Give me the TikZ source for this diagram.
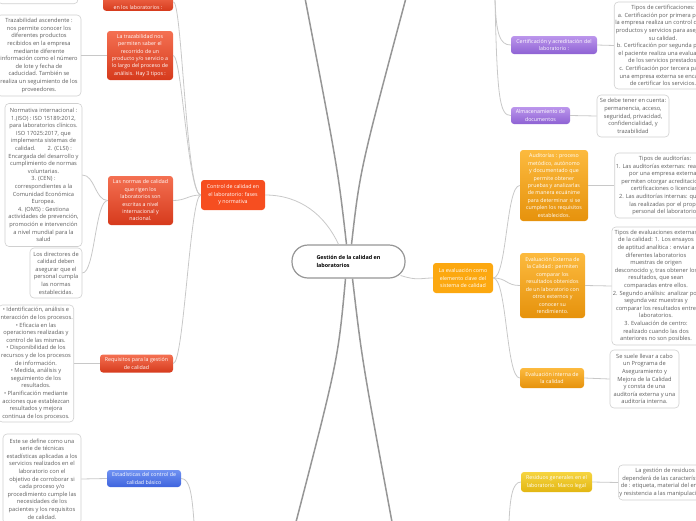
\documentclass[tikz,border=0pt]{standalone}
\usepackage{fontspec}
\setmainfont{Open Sans}

\definecolor{redtop}{RGB}{244,112,82}
\definecolor{redbot}{RGB}{214,58,28}
\definecolor{ctrlred}{RGB}{246,78,32}
\definecolor{bluetop}{RGB}{112,146,242}
\definecolor{bluebot}{RGB}{62,100,222}
\definecolor{purtop}{RGB}{188,150,236}
\definecolor{purbot}{RGB}{142,98,212}
\definecolor{orgtop}{RGB}{252,186,62}
\definecolor{orgbot}{RGB}{230,146,12}
\definecolor{evalorg}{RGB}{252,168,16}
\definecolor{yeltop}{RGB}{246,212,64}
\definecolor{yelbot}{RGB}{226,182,18}
\definecolor{linkgray}{RGB}{200,200,200}
\definecolor{trunkgray}{RGB}{150,150,150}
\definecolor{notegray}{RGB}{208,208,208}
\definecolor{notetext}{RGB}{95,95,95}

\tikzset{
  box/.style={rounded corners=3pt, inner xsep=1.5pt, inner ysep=1pt, align=center,
    text=white, font=\fontsize{5.3}{7.4}\selectfont},
  rednode/.style={box, top color=redtop, bottom color=redbot},
  bluenode/.style={box, top color=bluetop, bottom color=bluebot},
  purplenode/.style={box, top color=purtop, bottom color=purbot},
  orangenode/.style={box, top color=orgtop, bottom color=orgbot},
  yellownode/.style={box, top color=yeltop, bottom color=yelbot},
  note/.style={draw=notegray, line width=.6pt, fill=white, rounded corners=4pt,
    align=center, text=notetext, inner sep=1pt, font=\fontsize{5.7}{7.6}\selectfont},
  hub/.style={draw=trunkgray, line width=1.2pt, fill=white, rounded corners=16pt,
    minimum width=113, minimum height=33, align=left, text=black,
    font=\bfseries\fontsize{5.4}{7.8}\selectfont},
  link/.style={draw=linkgray, line width=.8pt},
  trunk/.style={draw=trunkgray, line width=1.5pt},
}

\begin{document}
\begin{tikzpicture}[x=1pt,y=-1pt]
\useasboundingbox (0,0) rectangle (696,520);
\clip (0,0) rectangle (696,520);

% centre
\node[hub] (hub) at (348.5,261.5) {Gestión de la calidad en\\laboratorios};
\coordinate (upL) at (305,-2); \coordinate (upR) at (406,-2);
\coordinate (dnL) at (296,522); \coordinate (dnR) at (392,522);
\draw[trunk] ([xshift=-2pt]hub.north) .. controls (338,170) .. (upL);
\draw[trunk] ([xshift=3pt]hub.north) .. controls (360,170) .. (upR);
\draw[trunk] ([xshift=-3pt]hub.south) .. controls (338,360) .. (dnL);
\draw[trunk] ([xshift=4pt]hub.south) .. controls (362,360) .. (dnR);

% left branch
\node[box, fill=ctrlred, minimum width=64, minimum height=30] (ctrl) at (233,195)
  {Control de calidad en\\el laboratorio: fases\\y normativa};
\node[rednode, minimum width=70, anchor=south] (topred) at (138,11)
  {\mbox{}\\[8pt]en los laboratorios :};
\node[note, minimum width=80, minimum height=20, anchor=south] (topnote) at (38,4) {};
\node[rednode, minimum width=66, minimum height=49] (trz) at (140,55.5)
  {La trazabilidad nos\\permiten saber el\\recorrido de un\\producto y/o servicio a\\lo largo del proceso de\\análisis. Hay 3 tipos :};
\node[note, minimum width=84, minimum height=81] (trztxt) at (39,55.5)
  {Trazabilidad ascendente :\\nos permite conocer los\\diferentes productos\\recibidos en la empresa\\mediante diferente\\información como el número\\de lote y fecha de\\caducidad. También se\\realiza un seguimiento de los\\proveedores.};
\node[rednode, minimum width=65, minimum height=49] (normas) at (140.5,200.5)
  {Las normas de calidad\\que rigen los\\laboratorios son\\escritas a nivel\\internacional y\\nacional.};
\node[note, minimum width=77, minimum height=143] (normtxt) at (43.5,175)
  {Normativa internacional :\\1.(ISO) : ISO 15189:2012,\\para laboratorios clínicos.\\ISO 17025:2017, que\\implementa sistemas de\\calidad.\hspace{12pt}2. (CLSI) :\\Encargada del desarrollo y\\cumplimiento de normas\\voluntarias.\\3. (CEN) :\\correspondientes a la\\Comunidad Económica\\Europea.\\4. (OMS) : Gestiona\\actividades de prevención,\\promoción e intervención\\a nivel mundial para la\\salud};
\node[note, minimum width=52, minimum height=50] (dirtxt) at (56,273)
  {Los directores de\\calidad deben\\asegurar que el\\personal cumpla\\las normas\\establecidas.};
\node[rednode, minimum width=73, minimum height=18] (req) at (136.5,363.5)
  {Requisitos para la gestión\\de calidad};
\node[note, minimum width=74, minimum height=117] (reqtxt) at (36,363.5)
  {• Identificación, análisis e\\interacción de los procesos.\\• Eficacia en las\\operaciones realizadas y\\control de las mismas.\\• Disponibilidad de los\\recursos y de los procesos\\de información.\\• Medida, análisis y\\seguimiento de los\\resultados.\\• Planificación mediante\\acciones que establezcan\\resultados y mejora\\continua de los procesos.};
\node[bluenode, minimum width=74, minimum height=17] (est) at (144,478.5)
  {Estadísticas del control de\\calidad básico};
\node[note, minimum width=78, minimum height=90] (esttxt) at (42,479)
  {Este se define como una\\serie de técnicas\\estadísticas aplicadas a los\\servicios realizados en el\\laboratorio con el\\objetivo de corroborar si\\cada proceso y/o\\procedimiento cumple las\\necesidades de los\\pacientes y los requisitos\\de calidad.};
\coordinate (dnS) at (194,522);

\draw[link] (ctrl.east) .. controls (300,195) and (325,215) .. ([xshift=-10pt]hub.north);
\draw[link] (ctrl.west) .. controls (186,195) and (182,-2) .. (topred.east);
\draw[link] (ctrl.west) .. controls (188,195) and (182,56) .. (trz.east);
\draw[link] (ctrl.west) .. controls (188,195) and (186,200.5) .. (normas.east);
\draw[link] (ctrl.west) .. controls (190,195) and (184,363.5) .. (req.east);
\draw[link] (trztxt.east) -- (trz.west);
\draw[link] (normas.west) .. controls (95,200.5) and (95,175) .. (normtxt.east);
\draw[link] (normas.west) .. controls (95,200.5) and (95,273) .. (dirtxt.east);
\draw[link] (reqtxt.east) -- (req.west);
\draw[link] (esttxt.east) -- (est.west);
\draw[link] (est.east) .. controls (190,478.5) and (192,495) .. (dnS);

% right branch
\node[box, fill=evalorg, minimum width=60, minimum height=30] (eval) at (463,278)
  {La evaluación como\\elemento clave del\\sistema de calidad};
\node[orangenode, minimum width=68, minimum height=71] (aud) at (554,185.5)
  {Auditorías : proceso\\metódico, autónomo\\y documentado que\\permite obtener\\pruebas y analizarlas\\de manera ecuánime\\para determinar si se\\cumplen los requisitos\\establecidos.};
\node[note, minimum width=100, minimum height=65] (audtxt) at (665,185.5)
  {Tipos de auditorías:\\1. Las auditorías externas: realizadas\\por una empresa externa y\\permiten otorgar acreditaciones,\\certificaciones o licencias.\\2. Las auditorías internas: que son\\las realizadas por el propio\\personal del laboratorio.};
\node[orangenode, minimum width=65, minimum height=65] (eee) at (552.5,285.5)
  {Evaluación Externa de\\la Calidad : permiten\\comparar los\\resultados obtenidos\\de un laboratorio con\\otros externos y\\conocer su\\rendimiento.};
\node[note, minimum width=88, minimum height=118] (eeetxt) at (656,286)
  {Tipos de evaluaciones externas\\de la calidad: 1. Los ensayos\\de aptitud analítica : enviar a\\diferentes laboratorios\\muestras de origen\\desconocido y, tras obtener los\\resultados, que sean\\comparadas entre ellos.\\2. Segundo análisis: analizar por\\segunda vez muestras y\\comparar los resultados entre\\laboratorios.\\3. Evaluación de centro:\\realizado cuando las dos\\anteriores no son posibles.};
\node[orangenode, minimum width=64, minimum height=20] (eint) at (552,378)
  {Evaluación interna de\\la calidad};
\node[note, minimum width=69, minimum height=58] (einttxt) at (644.5,379)
  {Se suele llevar a cabo\\un Programa de\\Aseguramiento y\\Mejora de la Calidad\\y consta de una\\auditoría externa y una\\auditoría interna.};

\node[purplenode, minimum width=86, minimum height=18] (cert) at (554,45)
  {Certificación y acreditación del\\laboratorio :};
\node[note, minimum width=80, minimum height=87] (certtxt) at (663,45.5)
  {Tipos de certificaciones:\\a. Certificación por primera parte:\\la empresa realiza un control de sus\\productos y servicios para asegurar\\su calidad.\\b. Certificación por segunda parte:\\el paciente realiza una evaluación\\de los servicios prestados.\\c. Certificación por tercera parte:\\una empresa externa se encarga\\de certificar los servicios.};
\node[purplenode, minimum width=59, minimum height=17] (alm) at (540.5,115.5)
  {Almacenamiento de\\documentos};
\node[note, minimum width=72, minimum height=42] (almtxt) at (633,116)
  {Se debe tener en cuenta:\\permanencia, acceso,\\seguridad, privacidad,\\confidencialidad, y\\trazabilidad};
\coordinate (topR) at (495,-2);

\node[yellownode, minimum width=71, minimum height=20] (res) at (556.5,482)
  {Residuos generales en el\\laboratorio. Marco legal};
\node[note, minimum width=92, minimum height=35] (restxt) at (665,482.5)
  {La gestión de residuos\\dependerá de las características\\de : etiqueta, material del envase\\y resistencia a las manipulaciones.};
\coordinate (dnY) at (509,522);

\draw[link] ([xshift=-5pt,yshift=-14pt]hub.east) .. controls (418,281) and (420,278) .. (eval.west);
\draw[link] (eval.east) .. controls (507,278) and (506,185.5) .. (aud.west);
\draw[link] (eval.east) .. controls (507,278) and (506,285.5) .. (eee.west);
\draw[link] (eval.east) .. controls (507,278) and (506,378) .. (eint.west);
\draw[link] (aud.east) -- (audtxt.west);
\draw[link] (eee.east) -- (eeetxt.west);
\draw[link] (eint.east) -- (einttxt.west);
\draw[link] (topR) .. controls (496,35) and (500,45) .. (cert.west);
\draw[link] (topR) .. controls (497,100) and (500,115.5) .. (alm.west);
\draw[link] (cert.east) -- (certtxt.west);
\draw[link] (alm.east) -- (almtxt.west);
\draw[link] (res.west) .. controls (512,482) and (510,500) .. (dnY);
\draw[link] (res.east) -- (restxt.west);
\end{tikzpicture}
\end{document}
